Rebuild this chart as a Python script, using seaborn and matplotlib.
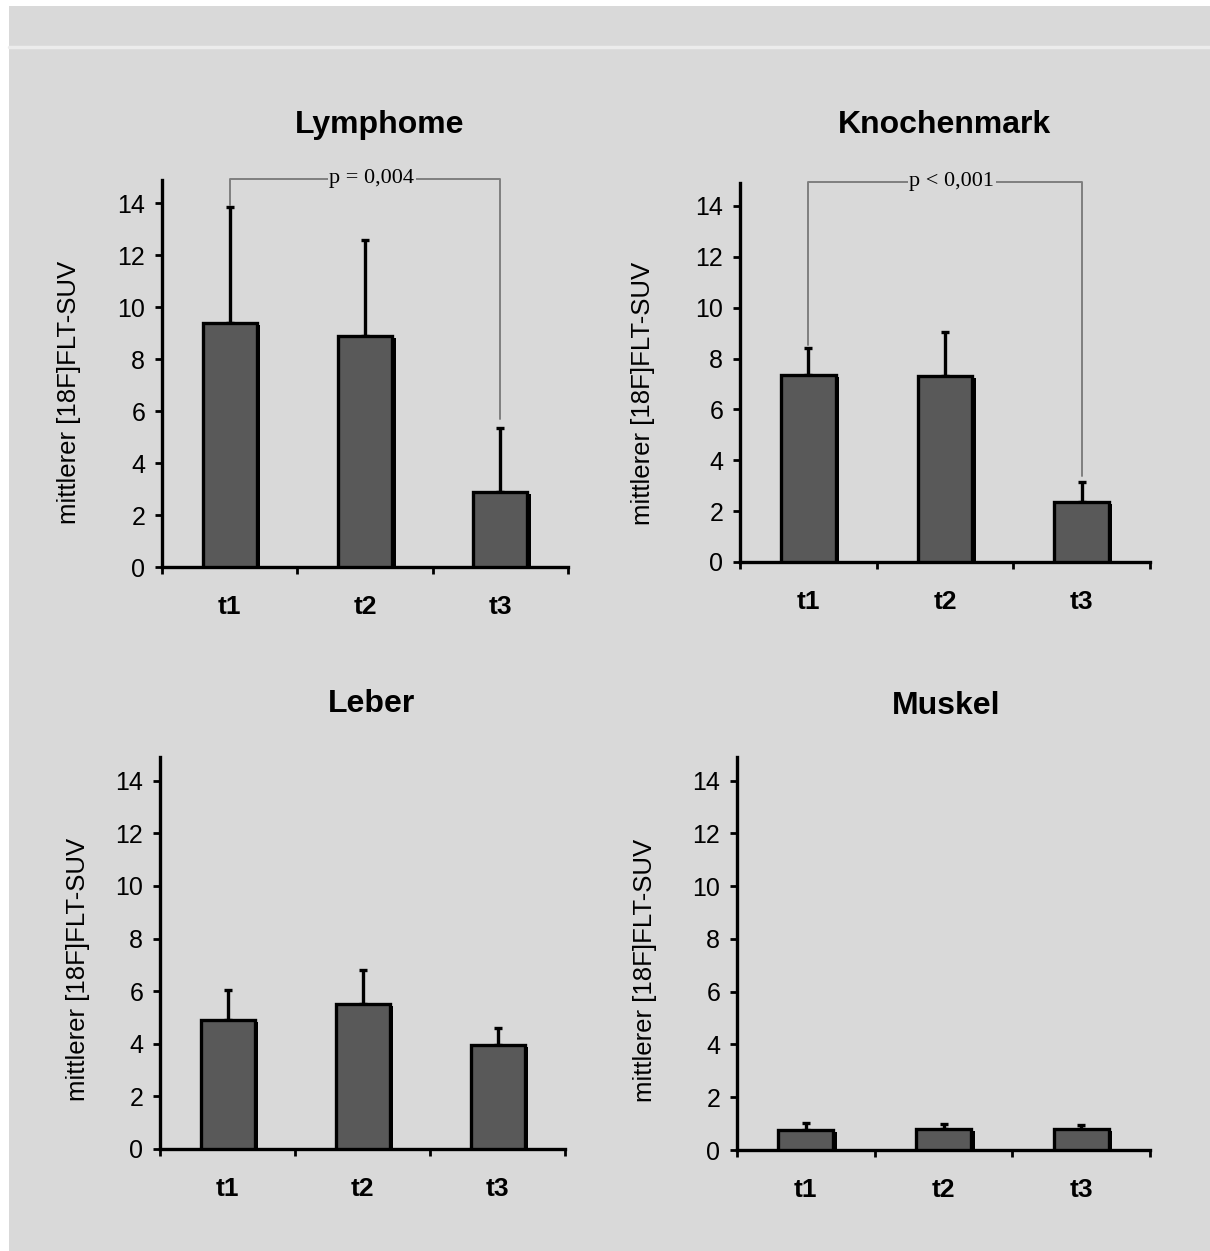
import numpy as np
import pandas as pd
import seaborn as sns
import matplotlib.pyplot as plt
import matplotlib.patches as mpatches
import matplotlib.patheffects as pe

# data
times = ["t1", "t2", "t3"]
lymphome = [9.4, 8.9, 2.9]
lymphome_sd = [4.45, 3.7, 2.45]
knochenmark = [7.35, 7.3, 2.35]
knochenmark_sd = [1.05, 1.75, 0.8]
leber = [4.9, 5.5, 3.95]
leber_sd = [1.15, 1.3, 0.65]
muskel = [0.76, 0.8, 0.8]
muskel_sd = [0.27, 0.2, 0.15]

panels = [
    ("Lymphome", lymphome, lymphome_sd, "p = 0,004"),
    ("Knochenmark", knochenmark, knochenmark_sd, "p < 0,001"),
    ("Leber", leber, leber_sd, None),
    ("Muskel", muskel, muskel_sd, None),
]
# bracket ends (y at t1, y at t3) for the significance marks
bracket_ends = {"Lymphome": (13.95, 5.7), "Knochenmark": (8.55, 3.4)}

bg = "#d9d9d9"
sns.set_theme(style="white")
plt.rcParams['font.family'] = ['Liberation Sans', 'DejaVu Sans']
plt.rcParams['text.color'] = 'black'
plt.rcParams['axes.labelcolor'] = 'black'
plt.rcParams['xtick.color'] = 'black'
plt.rcParams['ytick.color'] = 'black'

fig = plt.figure(figsize=(12.1, 12.51), dpi=100, facecolor="white")
# grey backdrop with white margin at top / left and the thin light line
fig.patches.append(mpatches.Rectangle((9/1210, 0), 1 - 9/1210, 1 - 6/1251,
                                      transform=fig.transFigure, facecolor=bg,
                                      edgecolor="none", zorder=-10))
fig.lines.append(plt.Line2D([9/1210, 1], [1 - 47/1251, 1 - 47/1251],
                            transform=fig.transFigure, color="#ececec", lw=2.5))

boxes = [
    [162/1210, 1 - 567/1251, 406/1210, 387/1251],
    [740/1210, 1 - 562/1251, 410/1210, 379/1251],
    [160/1210, 1 - 1149/1251, 405/1210, 392/1251],
    [737/1210, 1 - 1150/1251, 413/1210, 393/1251],
]
title_xy = [(0.537, 1.142), (0.498, 1.153), (0.523, 1.135), (0.506, 1.13)]
ylabel_xy = [(-0.2, 0.45), (-0.207, 0.446), (-0.172, 0.457), (-0.193, 0.458)]

shadow = [pe.SimplePatchShadow(offset=(2.5, -1.5), shadow_rgbFace="black", alpha=1),
          pe.Normal()]

for (title, vals, sd, ptxt), box, txy, lxy in zip(panels, boxes, title_xy, ylabel_xy):
    ax = fig.add_axes(box)
    ax.set_facecolor(bg)
    df = pd.DataFrame({"t": times, "suv": vals})
    sns.barplot(data=df, x="t", y="suv", ax=ax, color="#595959",
                edgecolor="black", linewidth=2.4, width=0.4, saturation=1,
                errorbar=None, zorder=3)
    for p in ax.patches:
        p.set_path_effects(shadow)
    # one-sided error bars (upwards only)
    ax.errorbar(range(len(times)), vals, yerr=[np.zeros(len(sd)), sd],
                fmt="none", ecolor="black", elinewidth=2.4, capsize=3,
                capthick=2.4, zorder=2)
    ax.set_xlim(-0.5, 2.5)
    ax.set_ylim(0, 14.9)
    ax.set_yticks(range(0, 15, 2))
    ax.set_xticks([0, 1, 2])
    ax.set_xticklabels(times, fontsize=19, fontweight="bold")
    ax.tick_params(axis="x", length=0, pad=20)
    ax.tick_params(axis="y", labelsize=18, length=5, width=2, direction="out",
                   left=True, pad=7)
    # ticks between the categories on the x axis
    ax.set_xticks([-0.5, 0.5, 1.5, 2.5], minor=True)
    ax.tick_params(axis="x", which="minor", length=5, width=2, bottom=True,
                   direction="out")
    for s in ["top", "right"]:
        ax.spines[s].set_visible(False)
    for s in ["left", "bottom"]:
        ax.spines[s].set_color("black")
        ax.spines[s].set_linewidth(2.4)
    ax.set_xlabel("")
    ax.set_ylabel("mittlerer [18F]FLT-SUV", fontsize=18.5)
    ax.yaxis.set_label_coords(*lxy)
    ax.text(txy[0], txy[1], title, transform=ax.transAxes, ha="center",
            va="center", fontsize=23, fontweight="bold")

    if ptxt:
        y1, y3 = bracket_ends[title]
        top = 14.95
        ax.plot([0, 0, 2, 2], [y1, top, top, y3], color="#7f7f7f", lw=1.4,
                clip_on=False, zorder=1)
        ax.text(1.05, top, ptxt, ha="center", va="center", fontsize=16,
                family=["Liberation Serif", "DejaVu Serif"],
                bbox=dict(facecolor=bg, edgecolor="none", pad=1.0), zorder=4)

fig.savefig("out.png", dpi=100, facecolor="white")
